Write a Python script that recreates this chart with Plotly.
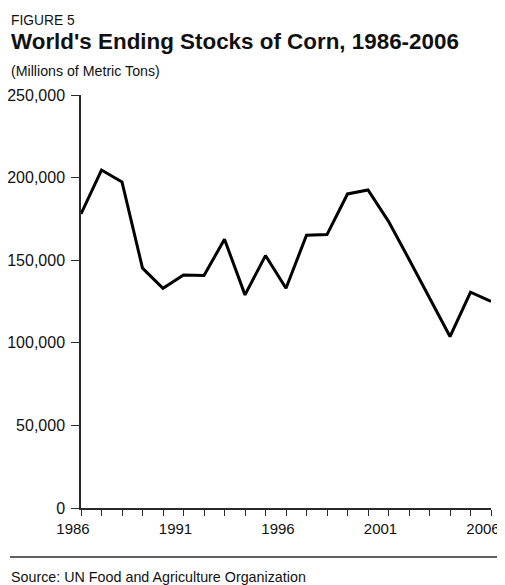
import plotly.graph_objects as go

years = list(range(1986, 2007))
stocks = [178000, 204600, 197400, 145200, 133000, 141000, 140700, 162700, 129000,
          152800, 133000, 165100, 165500, 190100, 192500, 173500, 150600, 127200,
          103800, 130600, 125000]
y_ticks = [0, 50000, 100000, 150000, 200000, 250000]
x_ticks = [1986, 1991, 1996, 2001, 2006]

FONT = "Liberation Sans, Arial, Helvetica, sans-serif"
OFF = 8  # page body margin
W, H = 505 - OFF, 585 - OFF
L, T = 81 - OFF, 95 - OFF
R = W - (491 - OFF)
B = H - (508 - OFF)
PH = H - T - B
PW = W - L - R

def py(ypx):
    return (H - B - (ypx - OFF)) / PH

def px(xpx):
    return ((xpx - OFF) - L) / PW

fig = go.Figure()
fig.add_trace(go.Scatter(x=years, y=stocks, mode="lines",
                         line=dict(color="#000000", width=3), hoverinfo="skip"))

fig.update_layout(
    width=W, height=H,
    margin=dict(l=L, r=R, t=T, b=B, autoexpand=False),
    paper_bgcolor="white", plot_bgcolor="white",
    showlegend=False,
    font=dict(family=FONT, color="#111111"),
    xaxis=dict(range=[1986, 2006], tickvals=x_ticks, ticktext=[str(v) for v in x_ticks],
               automargin=False, ticklabeloverflow="allow", ticklabelshift=-8,
               showgrid=False, zeroline=False, showline=True, linecolor="#2a2a2a", linewidth=1.5,
               ticks="outside", ticklen=6, tickwidth=1.3, tickcolor="#2a2a2a",
               tickfont=dict(size=15, family=FONT, color="#111111"),
               minor=dict(dtick=1, tick0=1986, ticks="outside", ticklen=6, tickwidth=1.3,
                          tickcolor="#2a2a2a", showgrid=False)),
    yaxis=dict(range=[0, 250000], tickvals=y_ticks, tickformat=",d",
               automargin=False, ticklabeloverflow="allow",
               showgrid=False, zeroline=False, showline=True, linecolor="#2a2a2a", linewidth=1.5,
               ticks="outside", ticklen=8, tickwidth=1.3, tickcolor="#2a2a2a",
               ticklabelstandoff=3,
               tickfont=dict(size=16, family=FONT, color="#111111")),
)

annots = [
    ("FIGURE 5", 20.5, 13.8, False),
    ("World's Ending Stocks of Corn, 1986-2006", 41.5, 22.4, True),
    ("(Millions of Metric Tons)", 71.5, 14.2, False),
    ("Source: UN Food and Agriculture Organization", 577, 14.3, False),
]
for text, ycen, size, bold in annots:
    fig.add_annotation(text=f"<b>{text}</b>" if bold else text,
                       xref="paper", yref="paper", x=px(9), y=py(ycen),
                       xanchor="left", yanchor="middle", showarrow=False,
                       font=dict(size=size, family=FONT, color="#111111"))

fig.add_shape(type="line", xref="paper", yref="paper",
              x0=px(10), x1=px(502), y0=py(557), y1=py(557),
              line=dict(color="#2a2a2a", width=1.5))

fig.write_html("out.html")
